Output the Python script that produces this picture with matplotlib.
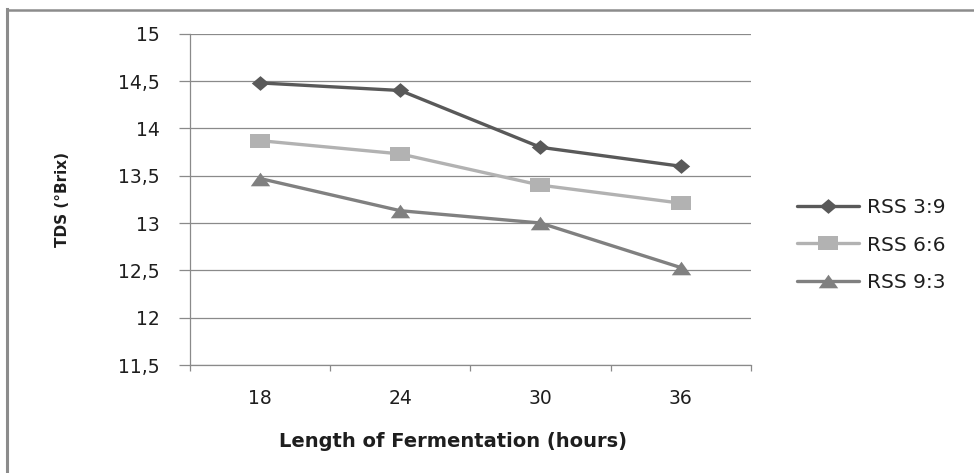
import matplotlib
matplotlib.use("Agg")
from matplotlib import pyplot as plt
from matplotlib.lines import Line2D
from matplotlib.ticker import FixedLocator, FuncFormatter
import numpy as np

hours = ['18', '24', '30', '36']
series_names = ['RSS 3:9', 'RSS 6:6', 'RSS 9:3']
rss_3_9 = [14.48, 14.40, 13.80, 13.60]
rss_6_6 = [13.87, 13.73, 13.40, 13.21]
rss_9_3 = [13.47, 13.13, 13.00, 12.53]
y_ticks = [11.5, 12, 12.5, 13, 13.5, 14, 14.5, 15]

# excel-like widened markers
diamond = [(-1, 0), (0, 0.85), (1, 0), (0, -0.85), (-1, 0)]
square = [(-1, -0.7), (1, -0.7), (1, 0.7), (-1, 0.7), (-1, -0.7)]
triangle = [(-1, -0.7), (1, -0.7), (0, 0.7), (-1, -0.7)]

styles = [
    dict(color='#595959', marker=diamond, ms=12.5),
    dict(color='#b2b2b2', marker=square, ms=15),
    dict(color='#808080', marker=triangle, ms=14),
]
grid_col = '#8a8a8a'
text_col = '#1e1e1e'

fig = plt.figure(figsize=(9.74, 4.73), dpi=100)
ax = fig.add_axes([190 / 974, 1 - 365 / 473, (750.7 - 190) / 974, (365 - 33.7) / 473])

x = np.arange(len(hours))
for name, vals, st in zip(series_names, [rss_3_9, rss_6_6, rss_9_3], styles):
    ax.plot(x, vals, color=st['color'], lw=2.4, marker=st['marker'],
            ms=st['ms'], mec=st['color'], mfc=st['color'], mew=0, label=name,
            solid_capstyle='round', zorder=3)

ax.set_ylim(11.5, 15)
ax.set_xlim(-0.5, len(hours) - 0.5)

ax.yaxis.set_major_locator(FixedLocator(y_ticks))
ax.yaxis.set_major_formatter(FuncFormatter(lambda v, p: ('%g' % v).replace('.', ',')))
ax.grid(axis='y', color=grid_col, lw=0.9)
ax.set_axisbelow(True)

ax.xaxis.set_major_locator(FixedLocator(np.arange(-0.5, len(hours), 1)))
ax.xaxis.set_major_formatter(FuncFormatter(lambda v, p: ''))
ax.xaxis.set_minor_locator(FixedLocator(x))
ax.xaxis.set_minor_formatter(FuncFormatter(lambda v, p: hours[int(round(v))]))

ax.tick_params(axis='y', which='major', length=8, width=0.9, color=grid_col,
               labelsize=13.5, labelcolor=text_col, pad=14)
ax.tick_params(axis='x', which='major', length=4, width=0.9, color=grid_col)
ax.tick_params(axis='x', which='minor', length=0, labelsize=13.5,
               labelcolor=text_col, pad=17)

for s in ['top', 'right']:
    ax.spines[s].set_visible(False)
for s in ['left', 'bottom']:
    ax.spines[s].set_color(grid_col)
    ax.spines[s].set_linewidth(0.9)

ax.set_xlabel('Length of Fermentation (hours)', fontsize=14, fontweight='bold',
              color=text_col)
ax.xaxis.set_label_coords((453 - 190) / (750.7 - 190), -(441 - 365) / (365 - 33.7))
ax.xaxis.label.set_va('center')
ax.set_ylabel('TDS (°Brix)', fontsize=11, fontweight='bold', color=text_col)
ax.yaxis.set_label_coords(-(190 - 63) / (750.7 - 190), 0.5)
ax.yaxis.label.set_va('center')

fig.legend(loc='center left', bbox_to_anchor=(797 / 974, 1 - 245 / 473),
           frameon=False, fontsize=14.5, handlelength=3.1, handletextpad=0.36,
           labelspacing=0.9, borderpad=0, borderaxespad=0, labelcolor=text_col)

# outer frame: only top and left edges show
fig.add_artist(Line2D([6.5 / 974, 6.5 / 974], [0, 1 - 9.5 / 473],
                      transform=fig.transFigure, color='#8c8c8c', lw=2.2))
fig.add_artist(Line2D([6.5 / 974, 1], [1 - 10 / 473, 1 - 10 / 473],
                      transform=fig.transFigure, color='#8c8c8c', lw=1.8))

fig.savefig('out.png', dpi=100)
